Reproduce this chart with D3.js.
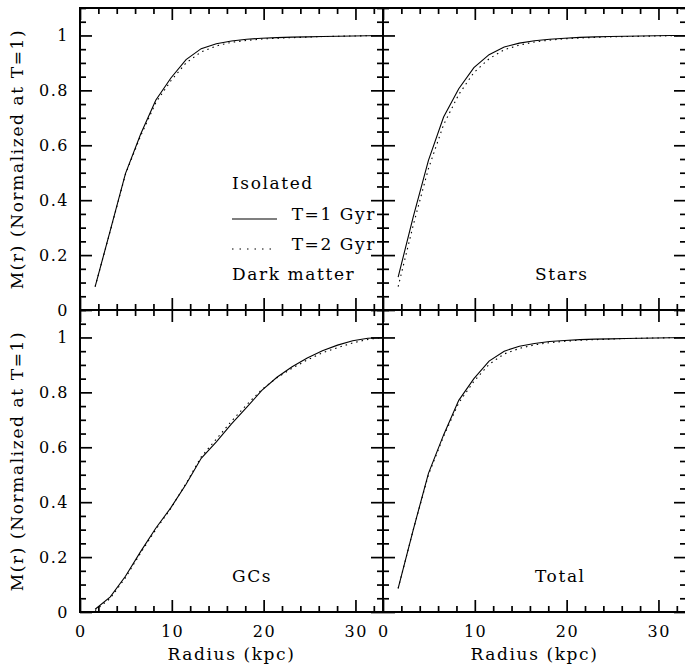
<html>
<head>
<meta charset="utf-8">
<title> M(r) profiles </title>
<script src="https://d3js.org/d3.v7.min.js"></script>
</head>
<style>
body { margin: 0; background: #fff; }
text { font-family: "DejaVu Serif", serif; fill: #000; }
.lbl { font-size: 17px; letter-spacing: 1.6px; }
.tl { font-size: 16px; letter-spacing: 1.5px; }
.tick line { stroke: #000; stroke-width: 1.7; }
</style>
<body>
<script>

// radius grid (kpc), shared by all curves
var radius = [1.65, 3.3, 4.95, 6.6, 8.25, 9.9, 11.55, 13.2, 14.85, 16.5,
              18.15, 19.8, 21.45, 23.1, 24.75, 26.4, 28.05, 29.7, 31.35, 33];

// M(r) normalized at T=1, solid = T=1 Gyr, dotted = T=2 Gyr
var dmT1 = [0.085, 0.29, 0.497, 0.64, 0.764, 0.845, 0.912, 0.952, 0.970, 0.980,
            0.986, 0.990, 0.992, 0.994, 0.995, 0.996, 0.997, 0.998, 0.999, 1.0];
var dmT2 = [0.085, 0.288, 0.494, 0.634, 0.755, 0.835, 0.900, 0.940, 0.962, 0.975,
            0.982, 0.987, 0.990, 0.992, 0.994, 0.996, 0.997, 0.998, 0.999, 1.0];

var starsT1 = [0.12, 0.34, 0.545, 0.703, 0.806, 0.883, 0.930, 0.958, 0.972, 0.981,
               0.986, 0.990, 0.993, 0.995, 0.996, 0.997, 0.998, 0.999, 1.0, 1.0];
var starsT2 = [0.085, 0.31, 0.515, 0.675, 0.785, 0.865, 0.915, 0.948, 0.965, 0.976,
               0.983, 0.988, 0.991, 0.993, 0.995, 0.996, 0.997, 0.998, 0.999, 1.0];

var gcsT1 = [0.01, 0.055, 0.13, 0.22, 0.305, 0.38, 0.465, 0.56, 0.62, 0.685,
             0.745, 0.807, 0.855, 0.893, 0.925, 0.952, 0.972, 0.988, 0.997, 1.0];
var gcsT2 = [0.005, 0.05, 0.125, 0.215, 0.30, 0.378, 0.468, 0.565, 0.63, 0.695,
             0.755, 0.81, 0.853, 0.888, 0.918, 0.944, 0.963, 0.98, 0.993, 1.0];

var totalT1 = [0.086, 0.30, 0.505, 0.645, 0.771, 0.85, 0.914, 0.950, 0.968, 0.978,
               0.985, 0.989, 0.992, 0.994, 0.995, 0.996, 0.997, 0.998, 0.999, 1.0];
var totalT2 = [0.086, 0.30, 0.50, 0.64, 0.762, 0.84, 0.902, 0.940, 0.960, 0.973,
               0.981, 0.986, 0.990, 0.992, 0.994, 0.996, 0.997, 0.998, 0.999, 1.0];

var panelNames = ["Dark matter", "Stars", "GCs", "Total"];
var xTickLabels = [0, 10, 20, 30];
var yTickLabels = [0, 0.2, 0.4, 0.6, 0.8, 1];
var legendTitle = "Isolated";
var legendLabels = ["T=1 Gyr", "T=2 Gyr"];
var xTitle = "Radius (kpc)";
var yTitle = "M(r) (Normalized at T=1)";

// layout
var margin = {left: 80, top: 8}, pw = 303, ph = 302;

var x = d3.scaleLinear().domain([0, 33]).range([0, pw]);
var y = d3.scaleLinear().domain([0, 1.1]).range([ph, 0]);

var xMinor = d3.range(0, 34, 2).filter(function(d) { return d % 10 != 0; });
var yMinor = d3.range(0, 23).filter(function(i) { return i % 4 != 0; })
               .map(function(i) { return i * 0.05; });

var svg = d3.select("body").append("svg")
    .attr("width", 685)
    .attr("height", 669);

var series = [[dmT1, dmT2], [starsT1, starsT2], [gcsT1, gcsT2], [totalT1, totalT2]];

var line = d3.line()
    .x(function(d) { return x(d[0]); })
    .y(function(d) { return y(d[1]); });

function ticks(g, axis, vals, size) {
    g.call(axis.tickValues(vals).tickSize(-size).tickFormat(""));
    g.select(".domain").remove();
}

panelNames.forEach(function(name, i) {
    var col = i % 2, row = Math.floor(i / 2);
    var g = svg.append("g")
        .attr("transform", "translate(" + (margin.left + col * pw) + "," + (margin.top + row * ph) + ")");

    // inward ticks on all four sides
    [[xTickLabels, 12], [xMinor, 6]].forEach(function(t) {
        ticks(g.append("g").attr("transform", "translate(0," + ph + ")"), d3.axisBottom(x), t[0], t[1]);
        ticks(g.append("g"), d3.axisTop(x), t[0], t[1]);
    });
    [[yTickLabels, 12], [yMinor, 6]].forEach(function(t) {
        ticks(g.append("g"), d3.axisLeft(y), t[0], t[1]);
        ticks(g.append("g").attr("transform", "translate(" + pw + ",0)"), d3.axisRight(y), t[0], t[1]);
    });

    g.append("rect")
        .attr("width", pw).attr("height", ph)
        .attr("fill", "none").attr("stroke", "#000").attr("stroke-width", 2);

    // curves
    series[i].forEach(function(vals, k) {
        g.append("path")
            .datum(radius.map(function(r, j) { return [r, vals[j]]; }))
            .attr("d", line)
            .attr("fill", "none")
            .attr("stroke", "#000")
            .attr("stroke-width", 1.1)
            .attr("stroke-dasharray", k == 1 ? "1.5,4" : null);
    });

    g.append("text").attr("class", "lbl")
        .attr("x", 152).attr("y", ph - 30)
        .text(name);

    // y tick labels on left column
    if (col == 0) {
        g.selectAll(".yl").data(yTickLabels).enter().append("text")
            .attr("class", "tl")
            .attr("x", -11).attr("y", function(d) { return y(d); })
            .attr("dy", "0.36em")
            .attr("text-anchor", "end")
            .text(function(d) { return d; });

        svg.append("text").attr("class", "lbl")
            .attr("transform", "translate(23," + (margin.top + row * ph + ph / 2) + ") rotate(-90)")
            .attr("text-anchor", "middle")
            .text(yTitle);
    }

    // x tick labels on bottom row
    if (row == 1) {
        g.selectAll(".xl").data(xTickLabels).enter().append("text")
            .attr("class", "tl")
            .attr("x", function(d) { return x(d) + 0.75; }).attr("y", ph + 25)
            .attr("text-anchor", "middle")
            .text(function(d) { return d; });

        g.append("text").attr("class", "lbl")
            .attr("x", pw / 2).attr("y", ph + 48)
            .attr("text-anchor", "middle")
            .text(xTitle);
    }

    // legend in the first panel
    if (i == 0) {
        g.append("text").attr("class", "lbl")
            .attr("x", 152).attr("y", 181)
            .text(legendTitle);
        legendLabels.forEach(function(lab, k) {
            var ly = 211 + k * 30;
            g.append("line")
                .attr("x1", 152).attr("x2", 197)
                .attr("y1", ly).attr("y2", ly)
                .attr("stroke", "#000").attr("stroke-width", 1.1)
                .attr("stroke-dasharray", k == 1 ? "1.5,6" : null);
            g.append("text").attr("class", "lbl")
                .attr("x", 296).attr("y", ly + 1)
                .attr("text-anchor", "end")
                .text(lab);
        });
    }
});

</script>
</body>
</html>
